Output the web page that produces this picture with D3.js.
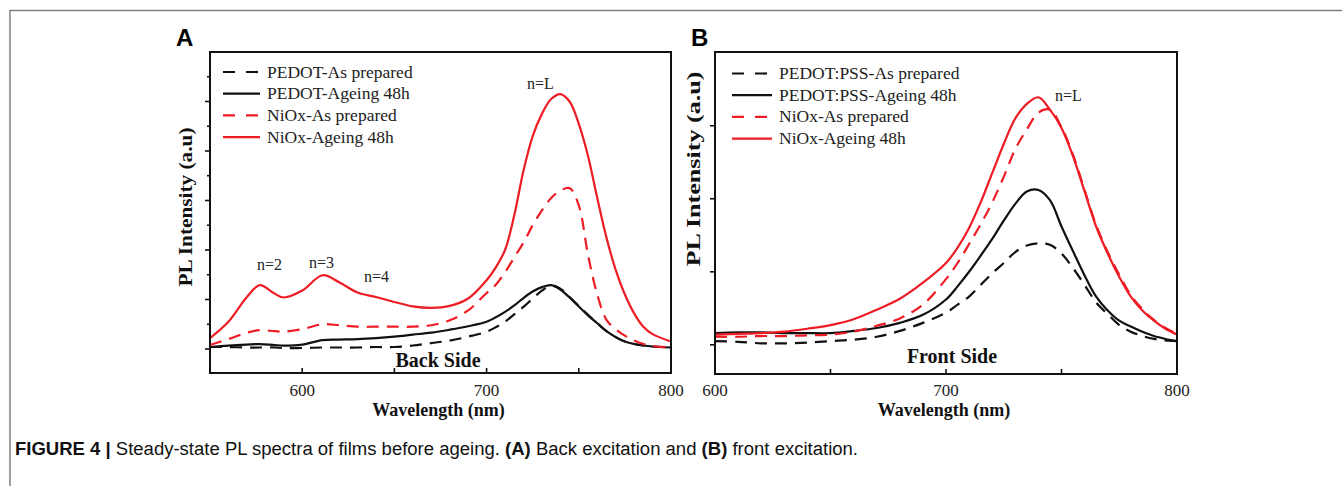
<!DOCTYPE html>
<html>
<head>
<meta charset="utf-8">
<script src="https://cdn.jsdelivr.net/npm/d3@7"></script>
<style>
  body { margin: 0; background: #fff; }
  svg { display: block; }
</style>
</head>
<body>
<div id="chart"></div>
<script>
// Panel A (back side) data
const waveA = [550, 560, 570, 577, 585, 590, 600, 611, 620, 630, 640, 650, 660, 670, 680, 690, 700, 705, 710, 715, 720, 725, 730, 735, 740, 745, 750, 755, 760, 765, 770, 775, 780, 785, 790, 800];
const pedotAsA = [0.04, 0.04, 0.03, 0.03, 0.03, 0.02, 0.02, 0.03, 0.03, 0.03, 0.04, 0.04, 0.07, 0.12, 0.17, 0.25, 0.35, 0.44, 0.55, 0.70, 0.85, 1.02, 1.18, 1.28, 1.22, 1.05, 0.87, 0.69, 0.52, 0.36, 0.24, 0.15, 0.10, 0.07, 0.05, 0.03];
const pedotAgeA = [0.04, 0.07, 0.09, 0.10, 0.08, 0.07, 0.09, 0.18, 0.19, 0.20, 0.22, 0.25, 0.29, 0.33, 0.39, 0.46, 0.55, 0.64, 0.75, 0.88, 1.03, 1.16, 1.25, 1.29, 1.20, 1.04, 0.86, 0.68, 0.52, 0.36, 0.24, 0.15, 0.10, 0.07, 0.05, 0.03];
const nioxAsA = [0.08, 0.20, 0.33, 0.38, 0.36, 0.35, 0.40, 0.50, 0.48, 0.45, 0.45, 0.45, 0.45, 0.48, 0.58, 0.78, 1.13, 1.30, 1.55, 1.85, 2.15, 2.50, 2.80, 3.05, 3.20, 3.25, 2.90, 1.90, 1.10, 0.59, 0.40, 0.27, 0.17, 0.10, 0.06, 0.03];
const nioxAgeA = [0.22, 0.55, 1.05, 1.29, 1.12, 1.04, 1.18, 1.49, 1.35, 1.14, 1.05, 0.95, 0.86, 0.83, 0.87, 1.02, 1.39, 1.65, 2.00, 2.70, 3.60, 4.30, 4.75, 5.05, 5.15, 5.00, 4.55, 3.90, 3.05, 2.25, 1.60, 1.10, 0.72, 0.45, 0.30, 0.15];
const legendA = ["PEDOT-As prepared", "PEDOT-Ageing 48h", "NiOx-As prepared", "NiOx-Ageing 48h"];

// Panel B (front side) data
const waveB = [600, 610, 620, 630, 640, 650, 660, 670, 680, 690, 700, 705, 710, 715, 720, 725, 730, 735, 740, 745, 750, 755, 760, 765, 770, 775, 780, 785, 790, 795, 800];
const pedotAsB = [0.05, 0.04, 0.02, 0.02, 0.03, 0.05, 0.07, 0.11, 0.19, 0.30, 0.44, 0.55, 0.66, 0.82, 0.98, 1.12, 1.27, 1.36, 1.39, 1.37, 1.25, 1.05, 0.82, 0.58, 0.42, 0.27, 0.18, 0.12, 0.08, 0.06, 0.05];
const pedotAgeB = [0.16, 0.17, 0.17, 0.16, 0.16, 0.16, 0.19, 0.23, 0.30, 0.41, 0.62, 0.80, 1.00, 1.22, 1.45, 1.70, 1.93, 2.10, 2.12, 1.98, 1.62, 1.28, 0.95, 0.66, 0.47, 0.33, 0.25, 0.18, 0.12, 0.08, 0.05];
const nioxAsB = [0.11, 0.11, 0.12, 0.12, 0.13, 0.14, 0.18, 0.26, 0.36, 0.55, 0.90, 1.12, 1.38, 1.65, 1.95, 2.30, 2.68, 2.95, 3.18, 3.22, 2.98, 2.60, 2.12, 1.64, 1.27, 0.96, 0.68, 0.49, 0.34, 0.23, 0.15];
const nioxAgeB = [0.14, 0.15, 0.16, 0.18, 0.22, 0.27, 0.35, 0.48, 0.63, 0.85, 1.12, 1.33, 1.60, 1.95, 2.35, 2.75, 3.10, 3.30, 3.39, 3.22, 2.97, 2.58, 2.10, 1.62, 1.25, 0.93, 0.66, 0.47, 0.33, 0.22, 0.14];
const legendB = ["PEDOT:PSS-As prepared", "PEDOT:PSS-Ageing 48h", "NiOx-As prepared", "NiOx-Ageing 48h"];

const xTicks = [600, 700, 800];

const W = 1342, H = 486;
const RED = "#ee1c24", BLACK = "#111";
const serif = "'Liberation Serif', 'Times New Roman', serif";
const sans = "'Liberation Sans', Arial, sans-serif";

const svg = d3.select("#chart").append("svg")
    .attr("width", W)
    .attr("height", H);

// marco gris de la figura
svg.append("path")
    .attr("d", `M10,${H} L10,10.5 L${W},10.5`)
    .attr("fill", "none")
    .attr("stroke", "#808080")
    .attr("stroke-width", 1.5);

const styles = [
    { color: BLACK, dash: "12,8" },
    { color: BLACK, dash: null },
    { color: RED, dash: "12,8" },
    { color: RED, dash: null }
];

function panel(cfg) {
    const x = d3.scaleLinear().domain(cfg.xDomain).range([cfg.left, cfg.right]);
    const y = d3.scaleLinear().domain(cfg.yDomain).range([cfg.bottom, cfg.top]);
    const g = svg.append("g");

    // curvas
    const line = d3.line()
        .x((d, i) => x(cfg.wave[i]))
        .y(d => y(d))
        .curve(d3.curveCatmullRom.alpha(0.5));

    cfg.series.forEach((s, i) => {
        g.append("path")
            .attr("d", line(s))
            .attr("fill", "none")
            .attr("stroke", styles[i].color)
            .attr("stroke-width", 2.2)
            .attr("stroke-dasharray", styles[i].dash);
    });

    // ticks eje Y (hacia fuera)
    cfg.yMajor.forEach(v => {
        g.append("line")
            .attr("x1", cfg.left - 5).attr("x2", cfg.left)
            .attr("y1", y(v)).attr("y2", y(v))
            .attr("stroke", "#111").attr("stroke-width", 1.6);
    });
    cfg.yMinor.forEach(v => {
        g.append("line")
            .attr("x1", cfg.left - 3).attr("x2", cfg.left)
            .attr("y1", y(v)).attr("y2", y(v))
            .attr("stroke", "#111").attr("stroke-width", 1.6);
    });

    // ticks eje X (hacia dentro)
    cfg.xAll.forEach(v => {
        g.append("line")
            .attr("x1", x(v)).attr("x2", x(v))
            .attr("y1", cfg.bottom).attr("y2", cfg.bottom - 5)
            .attr("stroke", "#111").attr("stroke-width", 1.6);
    });
    g.selectAll(".xl")
        .data(xTicks)
        .enter()
        .append("text")
        .attr("x", d => x(d))
        .attr("y", 396)
        .attr("text-anchor", "middle")
        .attr("font-family", serif)
        .attr("font-size", 17)
        .attr("fill", "#222")
        .text(d => d);

    // marco del gráfico
    g.append("rect")
        .attr("x", cfg.left).attr("y", cfg.top)
        .attr("width", cfg.right - cfg.left)
        .attr("height", cfg.bottom - cfg.top)
        .attr("fill", "none")
        .attr("stroke", "#111")
        .attr("stroke-width", 2);

    // leyenda
    cfg.legend.forEach((name, i) => {
        const ly = cfg.legY + i * 21.7;
        g.append("line")
            .attr("x1", cfg.legX).attr("x2", cfg.legX + cfg.legLen)
            .attr("y1", ly).attr("y2", ly)
            .attr("stroke", styles[i].color)
            .attr("stroke-width", 2.2)
            .attr("stroke-dasharray", styles[i].dash ? "12,11" : null);
        g.append("text")
            .attr("x", cfg.legX + cfg.legLen + 7)
            .attr("y", ly + 5.5)
            .attr("font-family", serif)
            .attr("font-size", 17.5)
            .attr("fill", "#222")
            .text(name);
    });

    // anotaciones
    cfg.notes.forEach(n => {
        g.append("text")
            .attr("x", n[1]).attr("y", n[2])
            .attr("font-family", serif)
            .attr("font-size", 16)
            .attr("fill", "#222")
            .text(n[0]);
    });

    g.append("text")
        .attr("x", cfg.sideX).attr("y", cfg.sideY)
        .attr("text-anchor", "middle")
        .attr("font-family", serif)
        .attr("font-weight", "bold")
        .attr("font-size", 20)
        .attr("fill", "#111")
        .text(cfg.side);

    // títulos de ejes
    g.append("text")
        .attr("x", (cfg.left + cfg.right) / 2 - 2)
        .attr("y", 416)
        .attr("text-anchor", "middle")
        .attr("font-family", serif)
        .attr("font-weight", "bold")
        .attr("font-size", 18)
        .attr("fill", "#111")
        .text("Wavelength (nm)");

    g.append("text")
        .attr("transform", `translate(${cfg.yLabX},${cfg.yLabY}) rotate(-90)`)
        .attr("text-anchor", "middle")
        .attr("dy", "0.35em")
        .attr("font-family", serif)
        .attr("font-weight", "bold")
        .attr("font-size", 19)
        .attr("textLength", cfg.yLabLen)
        .attr("lengthAdjust", "spacingAndGlyphs")
        .attr("fill", "#111")
        .text("PL Intensity (a.u)");

    // letra del panel
    g.append("text")
        .attr("x", cfg.letterX).attr("y", 46)
        .attr("font-family", sans)
        .attr("font-weight", "bold")
        .attr("font-size", 24)
        .attr("fill", "#000")
        .text(cfg.letter);
}

panel({
    wave: waveA,
    series: [pedotAsA, pedotAgeA, nioxAsA, nioxAgeA],
    xDomain: [550, 800], yDomain: [-0.485, 6.0],
    left: 210, right: 671, top: 52, bottom: 373,
    yMajor: [0, 1, 2, 3, 4, 5],
    yMinor: [0.5, 1.5, 2.5, 3.5, 4.5, 5.5],
    xAll: [600, 650, 700, 750],
    legend: legendA, legX: 223, legLen: 37, legY: 72,
    notes: [["n=L", 527, 89], ["n=2", 257, 270], ["n=3", 309, 268], ["n=4", 364, 282]],
    side: "Back Side", sideX: 438, sideY: 367,
    yLabX: 185, yLabY: 207, yLabLen: 159,
    letter: "A", letterX: 176
});

panel({
    wave: waveB,
    series: [pedotAsB, pedotAgeB, nioxAsB, nioxAgeB],
    xDomain: [600, 800], yDomain: [-0.4, 4.01],
    left: 715, right: 1177, top: 52, bottom: 374,
    yMajor: [0, 1, 2, 3],
    yMinor: [],
    xAll: [650, 700, 750],
    legend: legendB, legX: 732, legLen: 40, legY: 73.5,
    notes: [["n=L", 1055, 101]],
    side: "Front Side", sideX: 952, sideY: 363,
    yLabX: 693, yLabY: 169, yLabLen: 195,
    letter: "B", letterX: 691
});

// pie de figura
const cap = svg.append("text")
    .attr("x", 15)
    .attr("y", 455)
    .attr("font-family", sans)
    .attr("font-size", 18)
    .attr("textLength", 843)
    .attr("lengthAdjust", "spacingAndGlyphs")
    .attr("fill", "#111");
cap.append("tspan").attr("font-weight", "bold").text("FIGURE 4 | ");
cap.append("tspan").text("Steady-state PL spectra of films before ageing. ");
cap.append("tspan").attr("font-weight", "bold").text("(A)");
cap.append("tspan").text(" Back excitation and ");
cap.append("tspan").attr("font-weight", "bold").text("(B)");
cap.append("tspan").text(" front excitation.");
</script>
</body>
</html>
